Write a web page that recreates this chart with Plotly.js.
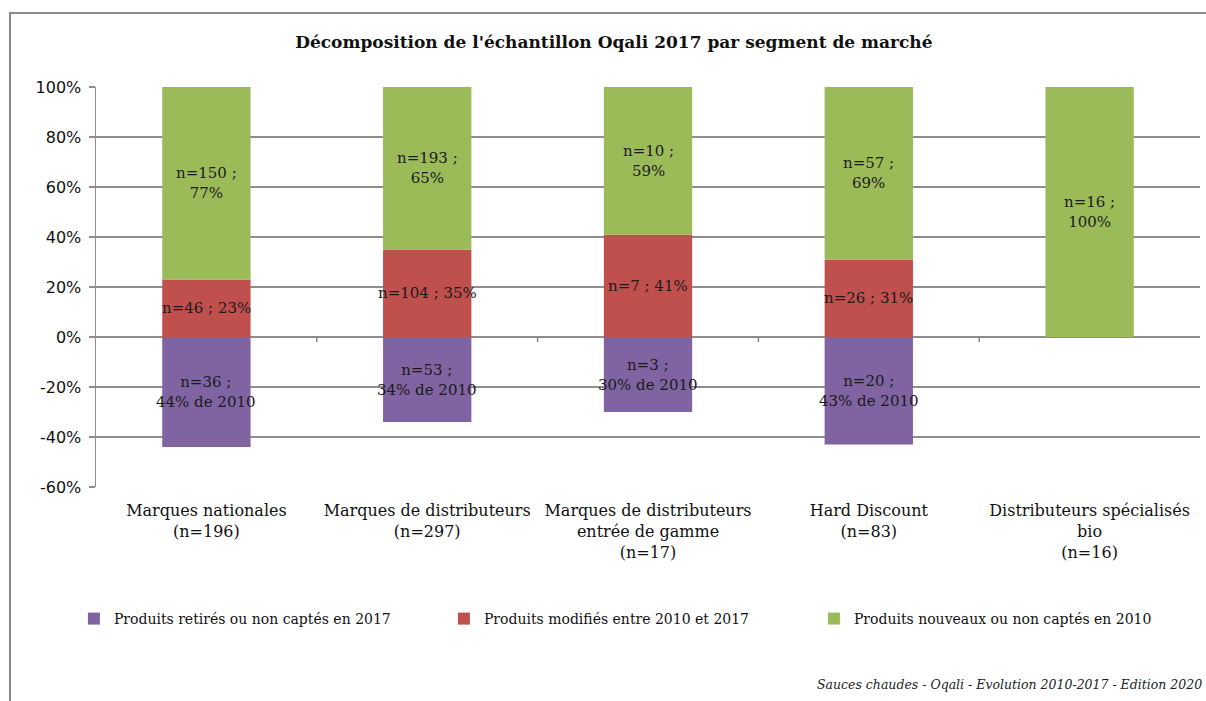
<!DOCTYPE html>
<html>
<head>
<meta charset="utf-8">
<script src="https://cdn.plot.ly/plotly-3.0.1.min.js"></script>
<style>
  html, body { margin: 0; padding: 0; background: #fff; }
  #wrap { position: relative; width: 1206px; height: 701px; overflow: hidden; }
  #frame { position: absolute; left: 9px; top: 12px; width: 1300px; height: 800px;
           border-top: 2px solid #8a8a8a; border-left: 2px solid #8a8a8a; pointer-events: none; }
  #chart { position: absolute; left: 0; top: 0; width: 1206px; height: 701px; }
</style>
</head>
<body>
<div id="wrap">
  <div id="chart"></div>
  <div id="frame"></div>
</div>
<script>
// ---- data ----
const categories = [
  "Marques nationales<br>(n=196)",
  "Marques de distributeurs<br>(n=297)",
  "Marques de distributeurs<br>entrée de gamme<br>(n=17)",
  "Hard Discount<br>(n=83)",
  "Distributeurs spécialisés<br>bio<br>(n=16)"
];
const seriesNames = [
  "Produits retirés ou non captés en 2017",
  "Produits modifiés entre 2010 et 2017",
  "Produits nouveaux ou non captés en 2010"
];
const retiresPct  = [-44, -34, -30, -43, 0];
const retiresN    = [36, 53, 3, 20, null];
const modifiesPct = [23, 35, 41, 31, 0];
const modifiesN   = [46, 104, 7, 26, null];
const nouveauxPct = [77, 65, 59, 69, 100];
const nouveauxN   = [150, 193, 10, 57, 16];
const yTickVals   = [-60, -40, -20, 0, 20, 40, 60, 80, 100];

const colors = ["#8064A2", "#C0504D", "#9BBB59"];
const serif = "DejaVu Serif";

const traces = [
  {name: seriesNames[0], y: retiresPct, color: colors[0]},
  {name: seriesNames[1], y: modifiesPct, color: colors[1]},
  {name: seriesNames[2], y: nouveauxPct, color: colors[2]}
].map(s => ({
  type: "bar", x: categories, y: s.y, name: s.name,
  marker: {color: s.color, line: {width: 0}},
  hoverinfo: "skip", textposition: "none"
}));

// labels
const annotations = [];
const labelFont = {family: serif, size: 15, color: "#1a1a1a"};
categories.forEach((c, i) => {
  if (retiresN[i] !== null) {
    annotations.push({x: c, y: retiresPct[i] / 2, xref: "x", yref: "y", showarrow: false,
      text: "n=" + retiresN[i] + " ;<br>" + Math.abs(retiresPct[i]) + "% de 2010", font: labelFont});
  }
  if (modifiesN[i] !== null) {
    annotations.push({x: c, y: modifiesPct[i] / 2, xref: "x", yref: "y", showarrow: false,
      text: "n=" + modifiesN[i] + " ; " + modifiesPct[i] + "%", font: labelFont});
  }
  annotations.push({x: c, y: modifiesPct[i] + nouveauxPct[i] / 2, xref: "x", yref: "y", showarrow: false,
    text: "n=" + nouveauxN[i] + " ;<br>" + nouveauxPct[i] + "%", font: labelFont});
});
annotations.push({
  text: "Sauces chaudes - Oqali - Evolution 2010-2017 - Edition 2020",
  xref: "paper", yref: "paper", x: 1.0036, y: -0.4925, xanchor: "right", yanchor: "middle",
  showarrow: false, font: {family: serif, size: 12.5, color: "#222", style: "italic"}
});

// category dividers (tick marks on zero line)
const shapes = [];
for (let k = 0; k < categories.length - 1; k++) {
  shapes.push({type: "line", xref: "x", yref: "y", x0: k + 0.5, x1: k + 0.5, y0: 0, y1: -2,
    line: {color: "#8a8a8a", width: 1.5}});
}

const layout = {
  width: 1206, height: 701,
  margin: {l: 96, r: 6, t: 87, b: 214},
  paper_bgcolor: "#fff", plot_bgcolor: "#fff",
  barmode: "relative", bargap: 0.6,
  title: {text: "<b>Décomposition de l'échantillon Oqali 2017 par segment de marché</b>",
    x: 0.509, xanchor: "center", y: 0.94, yanchor: "middle", yref: "container",
    font: {family: serif, size: 17, color: "#111"}},
  xaxis: {
    showgrid: false, zeroline: false, showline: false, ticks: "",
    tickfont: {family: serif, size: 16, color: "#111"},
    ticklabelstandoff: 12, fixedrange: true
  },
  yaxis: {
    range: [-60, 100], tickvals: yTickVals, ticktext: yTickVals.map(v => v + "%"),
    showgrid: true, gridcolor: "#8e8e8e", gridwidth: 1.5,
    zeroline: true, zerolinecolor: "#8e8e8e", zerolinewidth: 1.5,
    showline: true, linecolor: "#8e8e8e", linewidth: 1.5,
    ticks: "outside", ticklen: 6, tickcolor: "#8e8e8e", tickwidth: 1.5,
    tickfont: {family: "DejaVu Sans", size: 16, color: "#111"},
    ticklabelstandoff: 4,
    fixedrange: true
  },
  showlegend: true,
  legend: {orientation: "h", x: -0.02, xanchor: "left", y: -0.33, yanchor: "middle",
    traceorder: "normal", entrywidth: 325, entrywidthmode: "pixels",
    font: {family: serif, size: 14, color: "#111"}, itemwidth: 30},
  annotations: annotations, shapes: shapes,
  font: {family: serif}
};

Plotly.newPlot("chart", traces, layout, {displayModeBar: false, staticPlot: true});
</script>
</body>
</html>
